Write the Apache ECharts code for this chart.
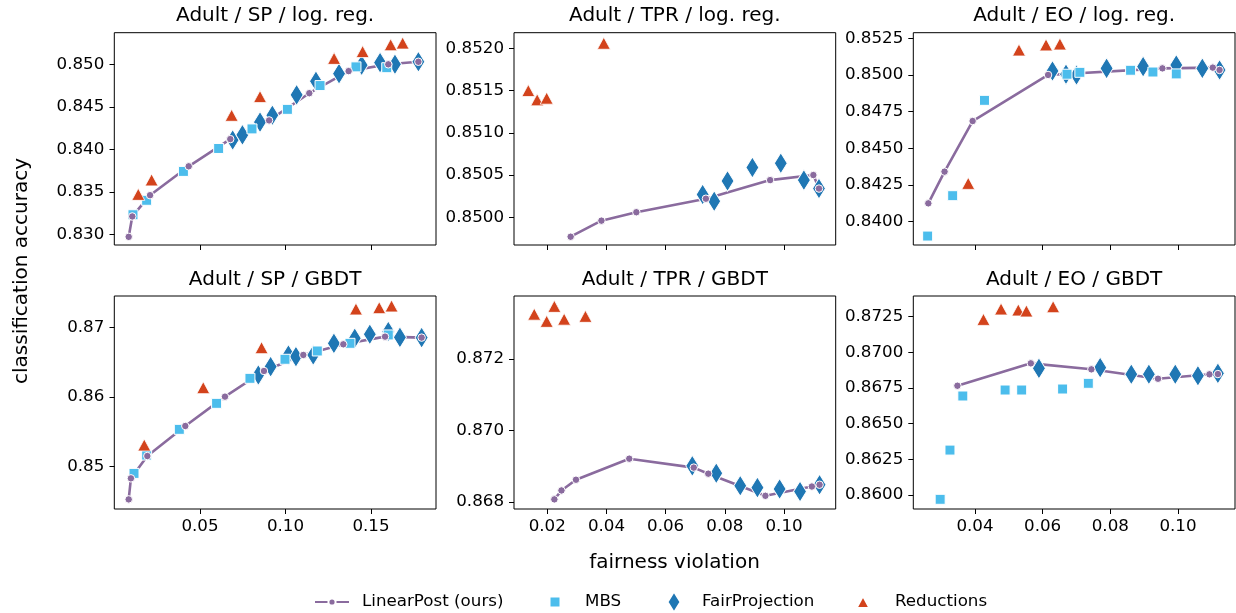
<!DOCTYPE html>
<html><head><meta charset="utf-8">
<script src="https://cdn.jsdelivr.net/npm/echarts@6/dist/echarts.min.js"></script>
<style>html,body{margin:0;padding:0;background:#fff}#c{width:1236px;height:613px}</style>
</head><body><div id="c"></div>
<script>
// ---------------- DATA ----------------
const titles = ['Adult / SP / log. reg.', 'Adult / TPR / log. reg.', 'Adult / EO / log. reg.',
                'Adult / SP / GBDT', 'Adult / TPR / GBDT', 'Adult / EO / GBDT'];
const seriesNames = ['LinearPost (ours)', 'MBS', 'FairProjection', 'Reductions'];
const xLabel = 'fairness violation';
const yLabel = 'classification accuracy';

// x tick values per column
const xTicksCol1 = [0.05, 0.10, 0.15];
const xTicksCol2 = [0.02, 0.04, 0.06, 0.08, 0.10];
const xTicksCol3 = [0.04, 0.06, 0.08, 0.10];
// y tick values per panel
const yTicks1 = [0.830, 0.835, 0.840, 0.845, 0.850];
const yTicks2 = [0.8500, 0.8505, 0.8510, 0.8515, 0.8520];
const yTicks3 = [0.8400, 0.8425, 0.8450, 0.8475, 0.8500, 0.8525];
const yTicks4 = [0.85, 0.86, 0.87];
const yTicks5 = [0.868, 0.870, 0.872];
const yTicks6 = [0.8600, 0.8625, 0.8650, 0.8675, 0.8700, 0.8725];

// Panel 1: Adult / SP / log. reg.
const spLrLinear = [[0.0083,0.8297],[0.0104,0.8321],[0.0208,0.8346],[0.0434,0.8380],[0.0677,0.8412],[0.0904,0.8434],[0.1139,0.8466],[0.1369,0.8492],[0.1601,0.8500],[0.1777,0.8503]];
const spLrMBS = [[0.0108,0.8323],[0.0188,0.8340],[0.0403,0.8374],[0.0609,0.8401],[0.0804,0.8424],[0.1011,0.8447],[0.1202,0.8475],[0.1412,0.8497],[0.1592,0.8496]];
const spLrFP = [[0.0691,0.8411],[0.0748,0.8417],[0.0851,0.8432],[0.0923,0.8440],[0.1065,0.8464],[0.1178,0.8480],[0.1313,0.8489],[0.1445,0.8499],[0.1553,0.8502],[0.1640,0.8500],[0.1777,0.8503]];
const spLrRed = [[0.0139,0.8347],[0.0217,0.8364],[0.0685,0.8440],[0.0851,0.8462],[0.1284,0.8507],[0.1451,0.8515],[0.1615,0.8523],[0.1685,0.8525]];

// Panel 2: Adult / TPR / log. reg.
const tprLrLinear = [[0.0279,0.84977],[0.0383,0.84996],[0.0501,0.85006],[0.0736,0.85022],[0.0953,0.85044],[0.1099,0.85050],[0.1118,0.85034]];
const tprLrMBS = [];
const tprLrFP = [[0.0725,0.85027],[0.0764,0.85019],[0.0809,0.85043],[0.0893,0.85059],[0.0989,0.85064],[0.1067,0.85044],[0.1118,0.85034]];
const tprLrRed = [[0.0136,0.85150],[0.0166,0.85139],[0.0198,0.85141],[0.0391,0.85206]];

// Panel 3: Adult / EO / log. reg.
const eoLrLinear = [[0.0262,0.84125],[0.0310,0.84341],[0.0393,0.84686],[0.0616,0.85000],[0.0954,0.85045],[0.1103,0.85050],[0.1123,0.85034]];
const eoLrMBS = [[0.0260,0.83902],[0.0334,0.84177],[0.0428,0.84827],[0.0672,0.85005],[0.0710,0.85018],[0.0860,0.85032],[0.0926,0.85020],[0.0995,0.85007]];
const eoLrFP = [[0.0629,0.85027],[0.0669,0.85005],[0.0700,0.85000],[0.0789,0.85045],[0.0897,0.85057],[0.0995,0.85068],[0.1072,0.85045],[0.1123,0.85034]];
const eoLrRed = [[0.0380,0.84261],[0.0530,0.85170],[0.0610,0.85205],[0.0651,0.85211]];

// Panel 4: Adult / SP / GBDT
const spGbLinear = [[0.0083,0.84531],[0.0096,0.84833],[0.0192,0.85153],[0.0414,0.85584],[0.0646,0.86005],[0.0874,0.86373],[0.1104,0.86603],[0.1338,0.86756],[0.1582,0.86866],[0.1796,0.86852]];
const spGbMBS = [[0.0114,0.84904],[0.0188,0.85167],[0.0379,0.85536],[0.0597,0.85909],[0.0792,0.86268],[0.0997,0.86541],[0.1186,0.86660],[0.1377,0.86770],[0.1601,0.86890]];
const spGbFP = [[0.0841,0.86316],[0.0913,0.86435],[0.1017,0.86603],[0.1061,0.86579],[0.1162,0.86603],[0.1283,0.86770],[0.1405,0.86842],[0.1493,0.86900],[0.1601,0.86938],[0.1669,0.86856],[0.1796,0.86852]];
const spGbRed = [[0.0174,0.85311],[0.0519,0.86134],[0.0860,0.86708],[0.1412,0.87263],[0.1548,0.87282],[0.1620,0.87306]];

// Panel 5: Adult / TPR / GBDT
const tprGbLinear = [[0.0224,0.86807],[0.0248,0.86832],[0.0297,0.86862],[0.0477,0.86921],[0.0695,0.86896],[0.0744,0.86879],[0.0937,0.86817],[0.1094,0.86843],[0.1120,0.86848]];
const tprGbMBS = [];
const tprGbFP = [[0.0690,0.86901],[0.0771,0.86880],[0.0852,0.86845],[0.0910,0.86840],[0.0985,0.86836],[0.1054,0.86829],[0.1120,0.86848]];
const tprGbRed = [[0.0156,0.87326],[0.0198,0.87306],[0.0224,0.87348],[0.0257,0.87312],[0.0329,0.87320]];

// Panel 6: Adult / EO / GBDT
const eoGbLinear = [[0.0348,0.86766],[0.0565,0.86923],[0.0744,0.86881],[0.0941,0.86815],[0.1093,0.86846],[0.1118,0.86848]];
const eoGbMBS = [[0.0297,0.85970],[0.0326,0.86315],[0.0364,0.86694],[0.0489,0.86736],[0.0538,0.86736],[0.0659,0.86743],[0.0735,0.86783]];
const eoGbFP = [[0.0589,0.86888],[0.0770,0.86893],[0.0862,0.86846],[0.0914,0.86846],[0.0992,0.86846],[0.1059,0.86836],[0.1118,0.86853]];
const eoGbRed = [[0.0425,0.87231],[0.0477,0.87304],[0.0528,0.87297],[0.0552,0.87290],[0.0631,0.87320]];

// ---------------- LAYOUT / STYLE ----------------
const FONT = 'DejaVu Sans';
const PURPLE = '#8a6b9e', SKY = '#4cbdec', BLUE = '#1f77b4', RED = '#d3431c';
const colLeft = [114.3, 514, 913.3], colWidth = 321.7;
const rowTop = [32.7, 296], rowHeight = [212.3, 213];
const colX = [[-0.00012, 0.188], [0.00876, 0.11745], [0.02176, 0.11686]];
const colXTicks = [xTicksCol1, xTicksCol2, xTicksCol3];

const panels = [
  {lin: spLrLinear, mbs: spLrMBS, fp: spLrFP, red: spLrRed, yr: [0.82874, 0.85372], yt: yTicks1, dec: 3},
  {lin: tprLrLinear, mbs: tprLrMBS, fp: tprLrFP, red: tprLrRed, yr: [0.849672, 0.852185], yt: yTicks2, dec: 4},
  {lin: eoLrLinear, mbs: eoLrMBS, fp: eoLrFP, red: eoLrRed, yr: [0.83841, 0.85288], yt: yTicks3, dec: 4},
  {lin: spGbLinear, mbs: spGbMBS, fp: spGbFP, red: spGbRed, yr: [0.84393, 0.87449], yt: yTicks4, dec: 2},
  {lin: tprGbLinear, mbs: tprGbMBS, fp: tprGbFP, red: tprGbRed, yr: [0.86780, 0.87377], yt: yTicks5, dec: 3},
  {lin: eoGbLinear, mbs: eoGbMBS, fp: eoGbFP, red: eoGbRed, yr: [0.85902, 0.87395], yt: yTicks6, dec: 4}
];

const grid = [], xAxis = [], yAxis = [], series = [], graphic = [];
const tickStyle = {color: '#000', width: 1};
const lblStyle = {fontSize: 16.7, fontFamily: FONT, color: '#000'};

panels.forEach((p, i) => {
  const row = Math.floor(i / 3), col = i % 3;
  grid.push({left: colLeft[col], top: rowTop[row], width: colWidth, height: rowHeight[row],
             show: true, borderColor: '#000', borderWidth: 1, backgroundColor: 'transparent'});
  xAxis.push({type: 'value', gridIndex: i, min: colX[col][0], max: colX[col][1],
    axisLine: {show: false}, splitLine: {show: false},
    axisTick: {show: true, length: 5, customValues: colXTicks[col], lineStyle: tickStyle},
    axisLabel: Object.assign({show: row === 1, customValues: colXTicks[col], margin: 9,
      formatter: v => v.toFixed(2)}, lblStyle)});
  yAxis.push({type: 'value', gridIndex: i, min: p.yr[0], max: p.yr[1],
    axisLine: {show: false}, splitLine: {show: false},
    axisTick: {show: true, length: 5, customValues: p.yt, lineStyle: tickStyle},
    axisLabel: Object.assign({show: true, customValues: p.yt, margin: 10,
      formatter: v => v.toFixed(p.dec)}, lblStyle)});

  const base = {xAxisIndex: i, yAxisIndex: i, silent: true, animation: false};
  series.push(Object.assign({type: 'line', name: seriesNames[0], data: p.lin, showSymbol: false,
    symbol: 'circle', symbolSize: 7, z: 1,
    lineStyle: {width: 2.6, color: PURPLE},
    itemStyle: {color: PURPLE, borderColor: '#fff', borderWidth: 1}}, base));
  series.push(Object.assign({type: 'scatter', name: seriesNames[2], data: p.fp, symbol: 'diamond',
    symbolSize: [13, 21], z: 2, itemStyle: {color: BLUE, borderColor: '#fff', borderWidth: 1, opacity: 1}}, base));
  series.push(Object.assign({type: 'scatter', name: seriesNames[1], data: p.mbs, symbol: 'rect',
    symbolSize: 10, z: 3, itemStyle: {color: SKY, borderColor: '#fff', borderWidth: 1, opacity: 1}}, base));
  series.push(Object.assign({type: 'scatter', name: seriesNames[3], data: p.red, symbol: 'triangle',
    symbolSize: [13, 12], z: 3, itemStyle: {color: RED, borderColor: '#fff', borderWidth: 0.8, opacity: 1}}, base));
  series.push(Object.assign({type: 'scatter', name: seriesNames[0], data: p.lin, symbol: 'circle',
    symbolSize: 7.5, z: 4, itemStyle: {color: PURPLE, borderColor: '#fff', borderWidth: 1, opacity: 1}}, base));

  graphic.push({type: 'text', x: colLeft[col] + colWidth / 2, y: row === 0 ? 16 : 279.3,
    style: {text: titles[i], fontSize: 20, fontFamily: FONT, fill: '#000', align: 'center', verticalAlign: 'middle'}});
});

graphic.push({type: 'text', x: 674.5, y: 562.5,
  style: {text: xLabel, fontSize: 20, fontFamily: FONT, fill: '#000', align: 'center', verticalAlign: 'middle'}});
graphic.push({type: 'text', x: 22, y: 271, rotation: Math.PI / 2,
  style: {text: yLabel, fontSize: 20, fontFamily: FONT, fill: '#000', align: 'center', verticalAlign: 'middle'}});

function mkLegend(name, left, top, w, h, pad) {
  return {data: [name], left: left, top: top, padding: 0, itemWidth: w, itemHeight: h,
    selectedMode: false, orient: 'horizontal',
    textStyle: {fontSize: 16.7, fontFamily: FONT, color: '#000', padding: [0, 0, 0, pad]}};
}
const legend = [
  mkLegend(seriesNames[0], 314, 593.5, 34, 9, 8),
  mkLegend(seriesNames[1], 548.5, 593.5, 11, 11, 19.5),
  mkLegend(seriesNames[2], 666.5, 590.5, 13, 21, 16.5),
  mkLegend(seriesNames[3], 855.5, 593.5, 13, 12, 20.5)
];

const chart = echarts.init(document.getElementById('c'), null, {renderer: 'canvas'});
chart.setOption({animation: false, backgroundColor: '#fff', grid, xAxis, yAxis, series, legend, graphic});
</script>
</body></html>
